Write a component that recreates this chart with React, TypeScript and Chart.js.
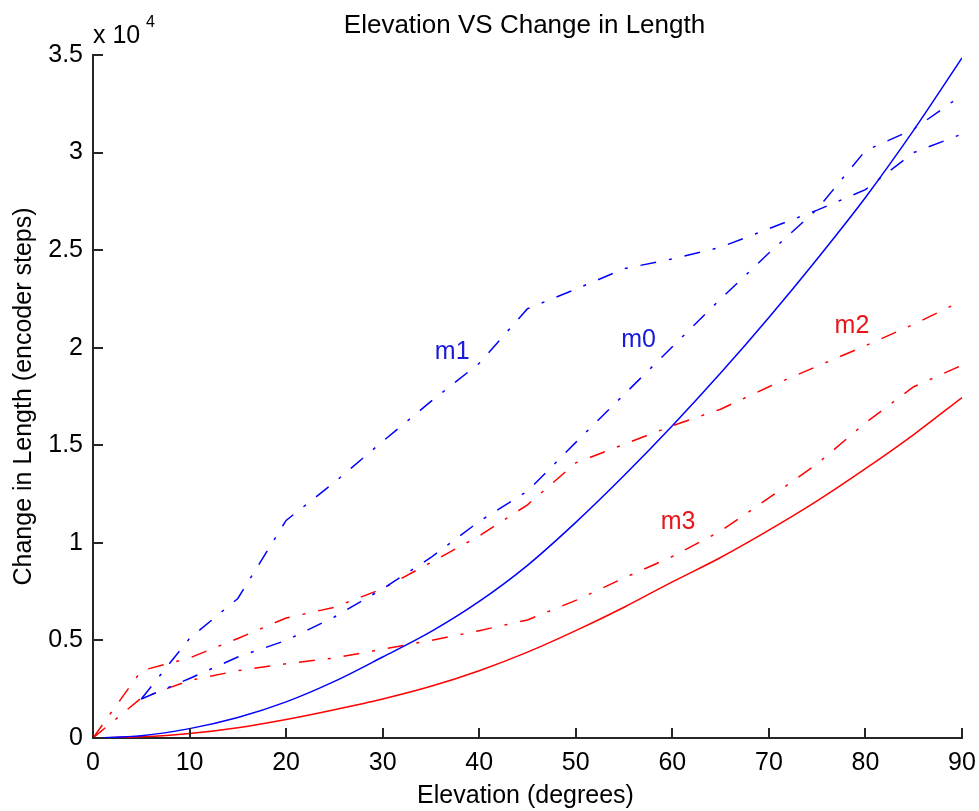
import React, { useEffect, useRef } from "react";
import { Chart, registerables } from "chart.js";

Chart.register(...registerables);

// ---- data ----
const elevation = [0, 5, 10, 15, 20, 25, 30, 35, 40, 45, 50, 55, 60, 65, 70, 75, 80, 85, 90];
const elevationFrom5 = [5, 10, 15, 20, 25, 30, 35, 40, 45, 50, 55, 60, 65, 70, 75, 80, 85, 90];

const solidBlue = [0, 120, 480, 1050, 1850, 2900, 4150, 5450, 7000, 8850, 11050, 13450, 16000, 18700, 21550, 24550, 27700, 31150, 34850];
const solidRed = [0, 60, 230, 530, 950, 1450, 2000, 2650, 3450, 4400, 5500, 6700, 8000, 9250, 10650, 12150, 13800, 15550, 17450];
const m0 = [2000, 3050, 4150, 5000, 6200, 7650, 9250, 11100, 12650, 15150, 17600, 20050, 22500, 24850, 27100, 30100, 31200, 32950];
const m1 = [2000, 5100, 7150, 11150, 13100, 15200, 17250, 19200, 22000, 23000, 24050, 24550, 25150, 26100, 27050, 28100, 30000, 30950];
const m2 = [0, 3450, 4100, 5100, 6150, 6700, 7650, 9000, 10350, 11950, 14100, 15050, 16000, 16850, 18000, 19050, 20100, 21200, 22400];
const m3 = [0, 2050, 2950, 3450, 3800, 4100, 4550, 5000, 5500, 6050, 7050, 8200, 9300, 10600, 12300, 14050, 16150, 18000, 19100];

const xTicks = [0, 10, 20, 30, 40, 50, 60, 70, 80, 90];
const yTicks = [0, 5000, 10000, 15000, 20000, 25000, 30000, 35000];
const yTickLabels = ["0", "0.5", "1", "1.5", "2", "2.5", "3", "3.5"];

const labelText = ["m1", "m0", "m2", "m3"];
const labelX = [37.2, 56.5, 78.6, 60.6];
const labelY = [19750, 20400, 21100, 11050];

const titleText = "Elevation VS Change in Length";
const xTitle = "Elevation (degrees)";
const yTitle = "Change in Length (encoder steps)";

const BLUE = "#0000ff";
const RED = "#ff0000";
const FONT = '"Liberation Sans", Arial, Helvetica, sans-serif';
const dashDot = [16, 13, 3, 13];

function pts(xs: number[], ys: number[]) {
  return xs.map((x, i) => ({ x, y: ys[i] }));
}

const overlay = {
  id: "overlay",
  afterDraw(chart: any) {
    const ctx = chart.ctx as CanvasRenderingContext2D;
    const xs = chart.scales.x;
    const ys = chart.scales.y;
    const area = chart.chartArea;
    ctx.save();
    ctx.setLineDash([]);
    // inward ticks
    ctx.fillStyle = "#262626";
    xTicks.forEach((t) => {
      const px = Math.round(xs.getPixelForValue(t));
      ctx.fillRect(px - 1, Math.round(area.bottom) - 10, 2, 10);
    });
    yTicks.forEach((t) => {
      const py = Math.round(ys.getPixelForValue(t));
      ctx.fillRect(Math.round(area.left), py - 1, 10, 2);
    });

    ctx.fillStyle = "#000";
    ctx.font = `25px ${FONT}`;
    ctx.textAlign = "center";
    ctx.textBaseline = "alphabetic";
    ctx.font = `26px ${FONT}`;
    ctx.fillText(titleText, (area.left + area.right) / 2 - 3, 33);
    ctx.font = `25px ${FONT}`;
    ctx.fillText(xTitle, (area.left + area.right) / 2 - 2, 803);

    ctx.save();
    ctx.translate(31, (area.top + area.bottom) / 2);
    ctx.rotate(-Math.PI / 2);
    ctx.fillText(yTitle, 0, 0);
    ctx.restore();

    // exponent label
    ctx.textAlign = "left";
    ctx.fillText("x 10", area.left, 43);
    ctx.font = `16px ${FONT}`;
    ctx.fillText("4", area.left + 53, 27);

    // series labels
    ctx.font = `25px ${FONT}`;
    ctx.textAlign = "center";
    ctx.textBaseline = "middle";
    labelText.forEach((t, i) => {
      ctx.fillStyle = i < 2 ? "#1a1ad8" : "#e8161b";
      ctx.fillText(t, xs.getPixelForValue(labelX[i]), ys.getPixelForValue(labelY[i]));
    });
    ctx.restore();
  },
};

export default function App() {
  const ref = useRef<HTMLCanvasElement | null>(null);
  useEffect(() => {
    if (!ref.current) return;
    const common = { pointRadius: 0, borderWidth: 1.5, fill: false };
    const chart = new Chart(ref.current, {
      type: "line",
      data: {
        datasets: [
          { ...common, data: pts(elevation, solidBlue), borderColor: BLUE, cubicInterpolationMode: "monotone" },
          { ...common, data: pts(elevation, solidRed), borderColor: RED, cubicInterpolationMode: "monotone" },
          { ...common, data: pts(elevationFrom5, m0), borderColor: BLUE, borderDash: dashDot },
          { ...common, data: pts(elevationFrom5, m1), borderColor: BLUE, borderDash: dashDot },
          { ...common, data: pts(elevation, m2), borderColor: RED, borderDash: dashDot },
          { ...common, data: pts(elevation, m3), borderColor: RED, borderDash: dashDot },
        ] as any,
      },
      options: {
        animation: false,
        responsive: false,
        devicePixelRatio: 1,
        layout: { padding: { left: 0, right: 17, top: 55, bottom: 0 } },
        plugins: { legend: { display: false }, tooltip: { enabled: false }, title: { display: false } },
        scales: {
          x: {
            type: "linear",
            min: 0,
            max: 90,
            afterFit: (s: any) => { s.height = 73; s.paddingLeft = 0; s.paddingRight = 0; },
            afterBuildTicks: (s: any) => { s.ticks = xTicks.map((v) => ({ value: v })); },
            grid: { display: false, drawTicks: false },
            border: { display: true, color: "#262626", width: 2 },
            ticks: { font: { family: FONT, size: 25 }, color: "#000", padding: 10, maxRotation: 0 },
          },
          y: {
            type: "linear",
            min: 0,
            max: 35000,
            afterFit: (s: any) => { s.width = 93; s.paddingTop = 0; s.paddingBottom = 0; },
            afterBuildTicks: (s: any) => { s.ticks = yTicks.map((v) => ({ value: v })); },
            grid: { display: false, drawTicks: false },
            border: { display: true, color: "#262626", width: 2 },
            ticks: {
              font: { family: FONT, size: 25 },
              color: "#000",
              padding: 10,
              callback: (v: any) => {
                const i = yTicks.indexOf(Number(v));
                return i >= 0 ? yTickLabels[i] : "";
              },
            },
          },
        },
      } as any,
      plugins: [overlay],
    });
    return () => chart.destroy();
  }, []);
  return (
    <div style={{ position: "fixed", left: 0, top: 0, width: 979, height: 811, background: "#fff" }}>
      <canvas ref={ref} width={979} height={811} />
    </div>
  );
}
